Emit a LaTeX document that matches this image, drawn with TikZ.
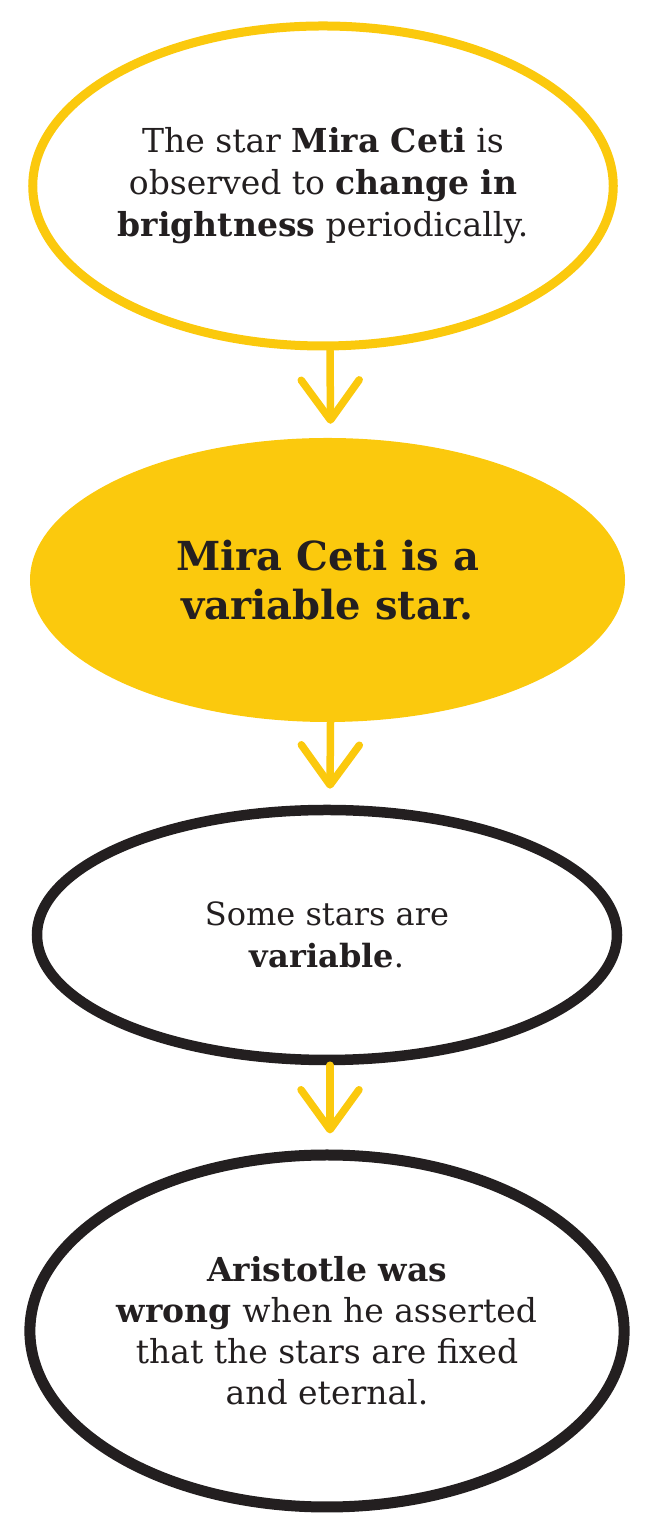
\documentclass[tikz,border=0pt]{standalone}
\usepackage{fontspec}
\setmainfont{DejaVu Serif}
\usetikzlibrary{shapes.geometric,arrows.meta}
\definecolor{ylw}{HTML}{FBC90D}
\definecolor{ink}{HTML}{231F20}
\tikzset{
  bubble/.style={ellipse, inner sep=0pt, align=center, text=ink},
  yring/.style={bubble, draw=ylw, line width=9pt},
  kring/.style={bubble, draw=ink, line width=10.5pt},
  yfill/.style={bubble, fill=ylw},
  arr/.style={draw=ylw, line width=7.5pt, line cap=round,
    -{Straight Barb[length=40pt, width=58pt, round]}},
  txt/.style={font=\fontsize{33}{42}\selectfont}
}
\begin{document}
\begin{tikzpicture}[x=1pt,y=1pt]
\useasboundingbox (0,0) rectangle (651,1536);
\node[yring, txt, minimum width=579pt, minimum height=320pt] (e1) at (323,1350)
  {The star \textbf{Mira Ceti} is\\observed to \textbf{change in}\\\textbf{brightness} periodically.};
\node[yfill, font=\fontsize{40}{49}\selectfont\bfseries, minimum width=595pt, minimum height=284pt] (e2) at (327.5,956)
  {Mira Ceti is a\\variable star.};
\node[kring, font=\fontsize{32}{42}\selectfont, minimum width=580pt, minimum height=250pt] (e3) at (327,601)
  {Some stars are\\\textbf{variable}.};
\node[kring, line width=11pt, font=\fontsize{33}{41}\selectfont, minimum width=584pt, minimum height=352pt] (e4) at (327,205)
  {\textbf{Aristotle was}\\\textbf{wrong} when he asserted\\that the stars are fixed\\and eternal.};
\draw[arr] ([xshift=7pt]e1.south) -- ([xshift=3pt,yshift=14pt]e2.north);
\draw[arr] ([xshift=3pt]e2.south) -- ([xshift=3pt,yshift=16pt]e3.north);
\draw[arr] ([xshift=3pt]e3.south) -- ([xshift=3pt,yshift=16pt]e4.north);
\end{tikzpicture}
\end{document}
